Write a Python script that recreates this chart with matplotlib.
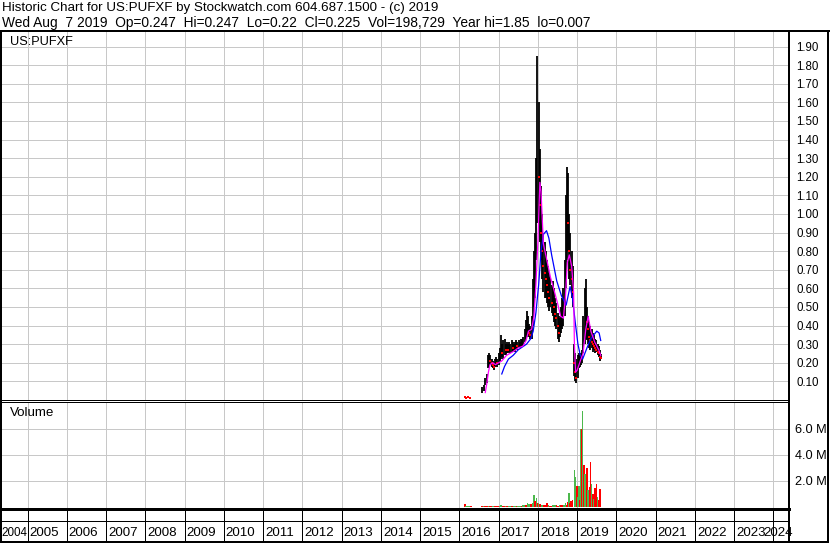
import numpy as np
import matplotlib
matplotlib.use('Agg')
import matplotlib.pyplot as plt
from matplotlib.lines import Line2D
from matplotlib.patches import Rectangle

plt.rcParams['font.family'] = ['Liberation Sans', 'DejaVu Sans']

# price bars: decimal year, low, high, close
bar_t = [2016.14, 2016.18, 2016.22, 2016.26,
         2016.58, 2016.62, 2016.66, 2016.70, 2016.73, 2016.76, 2016.79, 2016.82, 2016.85,
         2016.88, 2016.91, 2016.94, 2016.97, 2017.00, 2017.03, 2017.06, 2017.09, 2017.12,
         2017.15, 2017.18, 2017.21, 2017.24, 2017.27, 2017.30, 2017.33, 2017.36, 2017.39,
         2017.42, 2017.45, 2017.48, 2017.51, 2017.54, 2017.57, 2017.60, 2017.63, 2017.66,
         2017.69, 2017.72, 2017.75, 2017.78, 2017.81, 2017.84, 2017.87, 2017.90, 2017.93,
         2017.96, 2017.99, 2018.02, 2018.05, 2018.08, 2018.11, 2018.14, 2018.17, 2018.20,
         2018.23, 2018.26, 2018.29, 2018.32, 2018.35, 2018.38, 2018.41, 2018.44, 2018.47,
         2018.50, 2018.53, 2018.56, 2018.59, 2018.62, 2018.65, 2018.68, 2018.71, 2018.74,
         2018.77, 2018.80, 2018.83, 2018.86, 2018.89, 2018.92, 2018.95, 2018.98, 2019.01,
         2019.04, 2019.07, 2019.10, 2019.13, 2019.16, 2019.19, 2019.22, 2019.25, 2019.28,
         2019.31, 2019.34, 2019.37, 2019.40, 2019.43, 2019.46, 2019.49, 2019.52, 2019.55,
         2019.58, 2019.60]
bar_lo = [0.010, 0.007, 0.010, 0.011,
          0.04, 0.05, 0.08, 0.09, 0.17, 0.18, 0.19, 0.18, 0.17,
          0.16, 0.18, 0.19, 0.18, 0.19, 0.21, 0.22, 0.23, 0.22,
          0.24, 0.24, 0.25, 0.25, 0.26, 0.25, 0.26, 0.26, 0.27,
          0.26, 0.27, 0.27, 0.28, 0.28, 0.28, 0.29, 0.29, 0.31,
          0.33, 0.34, 0.35, 0.34, 0.33, 0.33, 0.40, 0.50, 0.55,
          0.75, 0.95, 0.95, 0.85, 0.75, 0.65, 0.58, 0.55, 0.55,
          0.52, 0.50, 0.48, 0.50, 0.47, 0.45, 0.42, 0.40, 0.38,
          0.33, 0.31, 0.34, 0.36, 0.38, 0.40, 0.45, 0.60, 0.75,
          0.80, 0.65, 0.62, 0.55, 0.50, 0.13, 0.10, 0.09, 0.12,
          0.17, 0.18, 0.19, 0.20, 0.25, 0.30, 0.33, 0.32, 0.30,
          0.28, 0.27, 0.28, 0.26, 0.27, 0.25, 0.26, 0.24, 0.23,
          0.21, 0.22]
bar_hi = [0.020, 0.018, 0.016, 0.015,
          0.07, 0.08, 0.12, 0.14, 0.24, 0.25, 0.24, 0.22, 0.21,
          0.20, 0.22, 0.23, 0.22, 0.25, 0.28, 0.35, 0.30, 0.32,
          0.33, 0.30, 0.31, 0.30, 0.31, 0.30, 0.32, 0.31, 0.30,
          0.31, 0.32, 0.31, 0.32, 0.31, 0.33, 0.33, 0.34, 0.38,
          0.43, 0.48, 0.45, 0.41, 0.40, 0.45, 0.65, 0.80, 0.90,
          1.30, 1.85, 1.60, 1.35, 1.15, 1.00, 0.90, 0.85, 0.80,
          0.75, 0.72, 0.68, 0.66, 0.62, 0.64, 0.60, 0.55, 0.52,
          0.47, 0.45, 0.44, 0.50, 0.55, 0.60, 0.75, 1.10, 1.25,
          1.22, 1.00, 0.90, 0.80, 0.72, 0.30, 0.25, 0.22, 0.24,
          0.25, 0.24, 0.25, 0.27, 0.45, 0.60, 0.65, 0.50, 0.45,
          0.42, 0.40, 0.38, 0.36, 0.35, 0.33, 0.32, 0.30, 0.29,
          0.27, 0.247]
bar_cl = [0.015, 0.012, 0.014, 0.013,
          0.05, 0.07, 0.10, 0.12, 0.20, 0.22, 0.21, 0.20, 0.19,
          0.18, 0.20, 0.21, 0.20, 0.22, 0.24, 0.26, 0.25, 0.27,
          0.28, 0.27, 0.28, 0.27, 0.28, 0.28, 0.29, 0.28, 0.28,
          0.29, 0.30, 0.29, 0.30, 0.30, 0.30, 0.31, 0.32, 0.34,
          0.37, 0.38, 0.40, 0.36, 0.35, 0.38, 0.55, 0.65, 0.75,
          1.00, 1.40, 1.20, 1.05, 0.90, 0.80, 0.72, 0.68, 0.65,
          0.62, 0.58, 0.55, 0.57, 0.52, 0.55, 0.50, 0.46, 0.44,
          0.40, 0.36, 0.40, 0.44, 0.48, 0.50, 0.60, 0.90, 1.05,
          0.95, 0.80, 0.70, 0.65, 0.58, 0.20, 0.15, 0.12, 0.18,
          0.20, 0.21, 0.22, 0.23, 0.35, 0.40, 0.45, 0.42, 0.38,
          0.34, 0.32, 0.31, 0.30, 0.29, 0.28, 0.27, 0.26, 0.25,
          0.23, 0.225]

# short moving average (magenta)
ma1_t = [2016.66, 2016.70, 2016.74, 2016.78, 2016.85, 2016.92, 2017.00, 2017.08, 2017.20,
         2017.37, 2017.50, 2017.62, 2017.70, 2017.76, 2017.84, 2017.90, 2017.95, 2018.00,
         2018.05, 2018.08, 2018.14, 2018.23, 2018.32, 2018.40, 2018.50, 2018.58, 2018.65,
         2018.70, 2018.75, 2018.80, 2018.86, 2018.91, 2018.93, 2018.96, 2019.00, 2019.08,
         2019.15, 2019.22, 2019.28, 2019.35, 2019.45, 2019.55, 2019.60]
ma1_v = [0.04, 0.09, 0.15, 0.19, 0.20, 0.19, 0.20, 0.21, 0.24,
         0.26, 0.28, 0.29, 0.32, 0.37, 0.38, 0.45, 0.62, 0.85,
         1.17, 1.12, 0.84, 0.75, 0.66, 0.60, 0.52, 0.45, 0.44,
         0.55, 0.74, 0.78, 0.72, 0.58, 0.30, 0.15, 0.16, 0.21,
         0.25, 0.38, 0.45, 0.37, 0.31, 0.27, 0.24]

# long moving average (blue)
ma2_t = [2017.08, 2017.15, 2017.25, 2017.37, 2017.50, 2017.71, 2017.82, 2017.88, 2017.95,
         2018.02, 2018.08, 2018.14, 2018.22, 2018.28, 2018.35, 2018.48, 2018.60, 2018.72,
         2018.82, 2018.88, 2018.95, 2019.02, 2019.08, 2019.14, 2019.25, 2019.35, 2019.50,
         2019.56, 2019.60]
ma2_v = [0.14, 0.18, 0.22, 0.24, 0.27, 0.30, 0.33, 0.37, 0.47,
         0.62, 0.80, 0.89, 0.91, 0.87, 0.78, 0.64, 0.56, 0.51,
         0.61, 0.55, 0.42, 0.30, 0.24, 0.22, 0.28, 0.33, 0.37,
         0.36, 0.32]

# volume (millions), 1 = up (green), 0 = down (red)
vol_t = [2016.14, 2016.17, 2016.20, 2016.24, 2016.30,
         2016.58, 2016.62, 2016.66, 2016.70, 2016.74, 2016.78, 2016.82, 2016.86, 2016.90,
         2016.94, 2016.98, 2017.02, 2017.06, 2017.10, 2017.14, 2017.18, 2017.22, 2017.26,
         2017.30, 2017.34, 2017.38, 2017.42, 2017.46, 2017.50, 2017.54, 2017.58, 2017.62,
         2017.66, 2017.70, 2017.74, 2017.78, 2017.82, 2017.86, 2017.90, 2017.93, 2017.96,
         2017.99, 2018.02, 2018.05, 2018.08, 2018.11, 2018.15, 2018.19, 2018.23, 2018.27,
         2018.31, 2018.35, 2018.39, 2018.43, 2018.47, 2018.51, 2018.55, 2018.59, 2018.63,
         2018.67, 2018.70, 2018.73, 2018.76, 2018.79, 2018.82, 2018.85, 2018.88, 2018.93,
         2018.96, 2018.99, 2019.02, 2019.04, 2019.07, 2019.10, 2019.12, 2019.14, 2019.17,
         2019.20, 2019.22, 2019.25, 2019.28, 2019.31, 2019.34, 2019.37, 2019.40, 2019.43,
         2019.46, 2019.49, 2019.52, 2019.55, 2019.58]
vol_v = [0.20, 0.05, 0.05, 0.04, 0.04,
         0.05, 0.05, 0.06, 0.05, 0.06, 0.05, 0.04, 0.05, 0.05,
         0.04, 0.05, 0.04, 0.12, 0.05, 0.04, 0.05, 0.05, 0.04,
         0.05, 0.06, 0.05, 0.05, 0.05, 0.06, 0.05, 0.06, 0.10,
         0.15, 0.12, 0.25, 0.20, 0.18, 0.30, 0.90, 0.45, 0.65,
         0.30, 0.30, 0.20, 0.12, 0.10, 0.08, 0.10, 0.25, 0.08,
         0.06, 0.07, 0.10, 0.12, 0.08, 0.06, 0.10, 0.08, 0.12,
         0.15, 0.25, 0.15, 0.35, 1.05, 0.30, 0.40, 0.50, 2.80,
         2.30, 1.60, 0.75, 1.55, 0.50, 6.00, 5.95, 7.35, 3.20,
         2.50, 2.10, 3.00, 1.30, 1.50, 3.40, 1.70, 1.00, 0.55,
         1.45, 1.75, 0.70, 0.50, 1.35]
vol_up = [0, 1, 1, 1, 0,
          0, 1, 0, 0, 1, 0, 0, 1, 0,
          0, 0, 1, 1, 0, 0, 1, 0, 1,
          1, 0, 1, 1, 0, 1, 1, 0, 1,
          1, 0, 1, 1, 0, 1, 1, 0, 1,
          0, 1, 0, 0, 1, 0, 0, 0, 1,
          0, 0, 1, 1, 0, 0, 1, 0, 0,
          1, 1, 0, 0, 1, 0, 0, 0, 1,
          1, 0, 1, 1, 0, 1, 0, 1, 0,
          1, 1, 0, 1, 0, 0, 1, 0, 1,
          0, 0, 1, 0, 0]

years = list(range(2004, 2025))
price_ticks = [0.1, 0.2, 0.3, 0.4, 0.5, 0.6, 0.7, 0.8, 0.9, 1.0,
               1.1, 1.2, 1.3, 1.4, 1.5, 1.6, 1.7, 1.8, 1.9]
vol_ticks = [2, 4, 6]

title1 = 'Historic Chart for US:PUFXF by Stockwatch.com 604.687.1500 - (c) 2019'
title2 = 'Wed Aug  7 2019  Op=0.247  Hi=0.247  Lo=0.22  Cl=0.225  Vol=198,729  Year hi=1.85  lo=0.007'

W, H = 830, 543
PX = 72 / 100  # one pixel in points


def fx(p):
    return p / W


def fy(p):
    return 1 - p / H


fig = plt.figure(figsize=(W / 100, H / 100), dpi=100)
xlim = (2004.325, 2024.396)
grid_c = '#c8c8c8'

# price panel
axp = fig.add_axes([fx(1), fy(400), fx(789) - fx(1), fy(32) - fy(400)])
axp.set_xlim(*xlim)
axp.set_ylim(0, 1.978)
for y in years[1:]:
    axp.axvline(y, color=grid_c, lw=PX, zorder=0)
for v in price_ticks:
    axp.axhline(v, color=grid_c, lw=PX, zorder=0)
axp.vlines(bar_t, bar_lo, bar_hi, color='black', lw=1.3, zorder=2)
red_t = [t for i, t in enumerate(bar_t) if i > 0 and bar_cl[i] < bar_cl[i - 1]]
red_c = [c for i, c in enumerate(bar_cl) if i > 0 and bar_cl[i] < bar_cl[i - 1]]
axp.plot(red_t, red_c, ls='none', marker='s', ms=1.6, mew=0, color='red', zorder=3)
axp.plot(bar_t[:4], bar_cl[:4], ls='none', marker='s', ms=1.8, mew=0, color='red', zorder=3)
axp.plot(ma2_t, ma2_v, color='#0000ff', lw=0.9, zorder=4)
axp.plot(ma1_t, ma1_v, color='#ff00ff', lw=0.9, zorder=5)
axp.yaxis.tick_right()
axp.set_yticks(price_ticks)
axp.set_yticklabels(['%.2f' % v for v in price_ticks], fontsize=8.3)
axp.tick_params(axis='y', length=0, pad=5.5)
axp.set_xticks([])
for s in ['top', 'left']:
    axp.spines[s].set_visible(False)
axp.spines['right'].set_linewidth(2 * PX)
axp.spines['bottom'].set_linewidth(PX)
axp.text(fx(9) / (fx(789) - fx(1)), 1 - 10 / 368, 'US:PUFXF', transform=axp.transAxes,
         fontsize=9.2, va='center', ha='left')

# volume panel
axv = fig.add_axes([fx(1), fy(509), fx(789) - fx(1), fy(402) - fy(509)])
axv.set_xlim(*xlim)
axv.set_ylim(-0.19, 8.04)
for y in years[1:]:
    axv.axvline(y, color=grid_c, lw=PX, zorder=0)
for v in vol_ticks:
    axv.axhline(v, color=grid_c, lw=PX, zorder=0)
vcol = ['#4cb84c' if u else '#ff0000' for u in vol_up]
axv.bar(vol_t, vol_v, width=0.04, bottom=0, color=vcol, lw=0, zorder=2)
axv.yaxis.tick_right()
axv.set_yticks(vol_ticks)
axv.set_yticklabels(['%.1f M' % v for v in vol_ticks], fontsize=9.2)
axv.tick_params(axis='y', length=0, pad=4.5)
axv.set_xticks([])
for s in ['bottom', 'left']:
    axv.spines[s].set_visible(False)
axv.spines['top'].set_linewidth(PX)
axv.spines['right'].set_linewidth(2 * PX)
axv.text(fx(9) / (fx(789) - fx(1)), 1 - 11 / 107, 'Volume', transform=axv.transAxes,
         fontsize=9.6, va='center', ha='left')

# year strip
axx = fig.add_axes([fx(1), fy(542), fx(789) - fx(1), fy(509) - fy(542)])
axx.set_xlim(*xlim)
axx.set_ylim(542, 509)
axx.axis('off')
for y in years[1:]:
    axx.plot([y, y], [509, 542], color='black', lw=PX)
axx.plot(xlim, [521, 521], color='black', lw=PX)
for y in years:
    if y == years[0]:
        axx.text(xlim[0] + 0.02, 533, str(y), ha='left', va='center', fontsize=8.4,
                 clip_on=False)
    elif y == years[-1]:
        axx.text(2024.5, 533, str(y), ha='right', va='center', fontsize=9.6, clip_on=False)
    else:
        axx.text(y + 0.43, 533, str(y), ha='center', va='center', fontsize=9.6)

# header, frame lines
fig.text(fx(2), fy(8), title1, fontsize=9.6, va='center', ha='left')
fig.text(fx(2), fy(23), title2, fontsize=9.9, va='center', ha='left')
fig.add_artist(Line2D([0, 1], [fy(31), fy(31)], color='black', lw=2 * PX))
fig.add_artist(Line2D([0, fx(789)], [fy(509), fy(509)], color='black', lw=3 * PX))
fig.add_artist(Rectangle((fx(0.5), fy(542)), fx(828) - fx(0.5), fy(31) - fy(542),
                         transform=fig.transFigure, fill=False, ec='black', lw=2 * PX))
fig.add_artist(Line2D([fx(789), fx(789)], [fy(542), fy(31)], color='black', lw=2 * PX))

fig.savefig('out.png', dpi=100)
